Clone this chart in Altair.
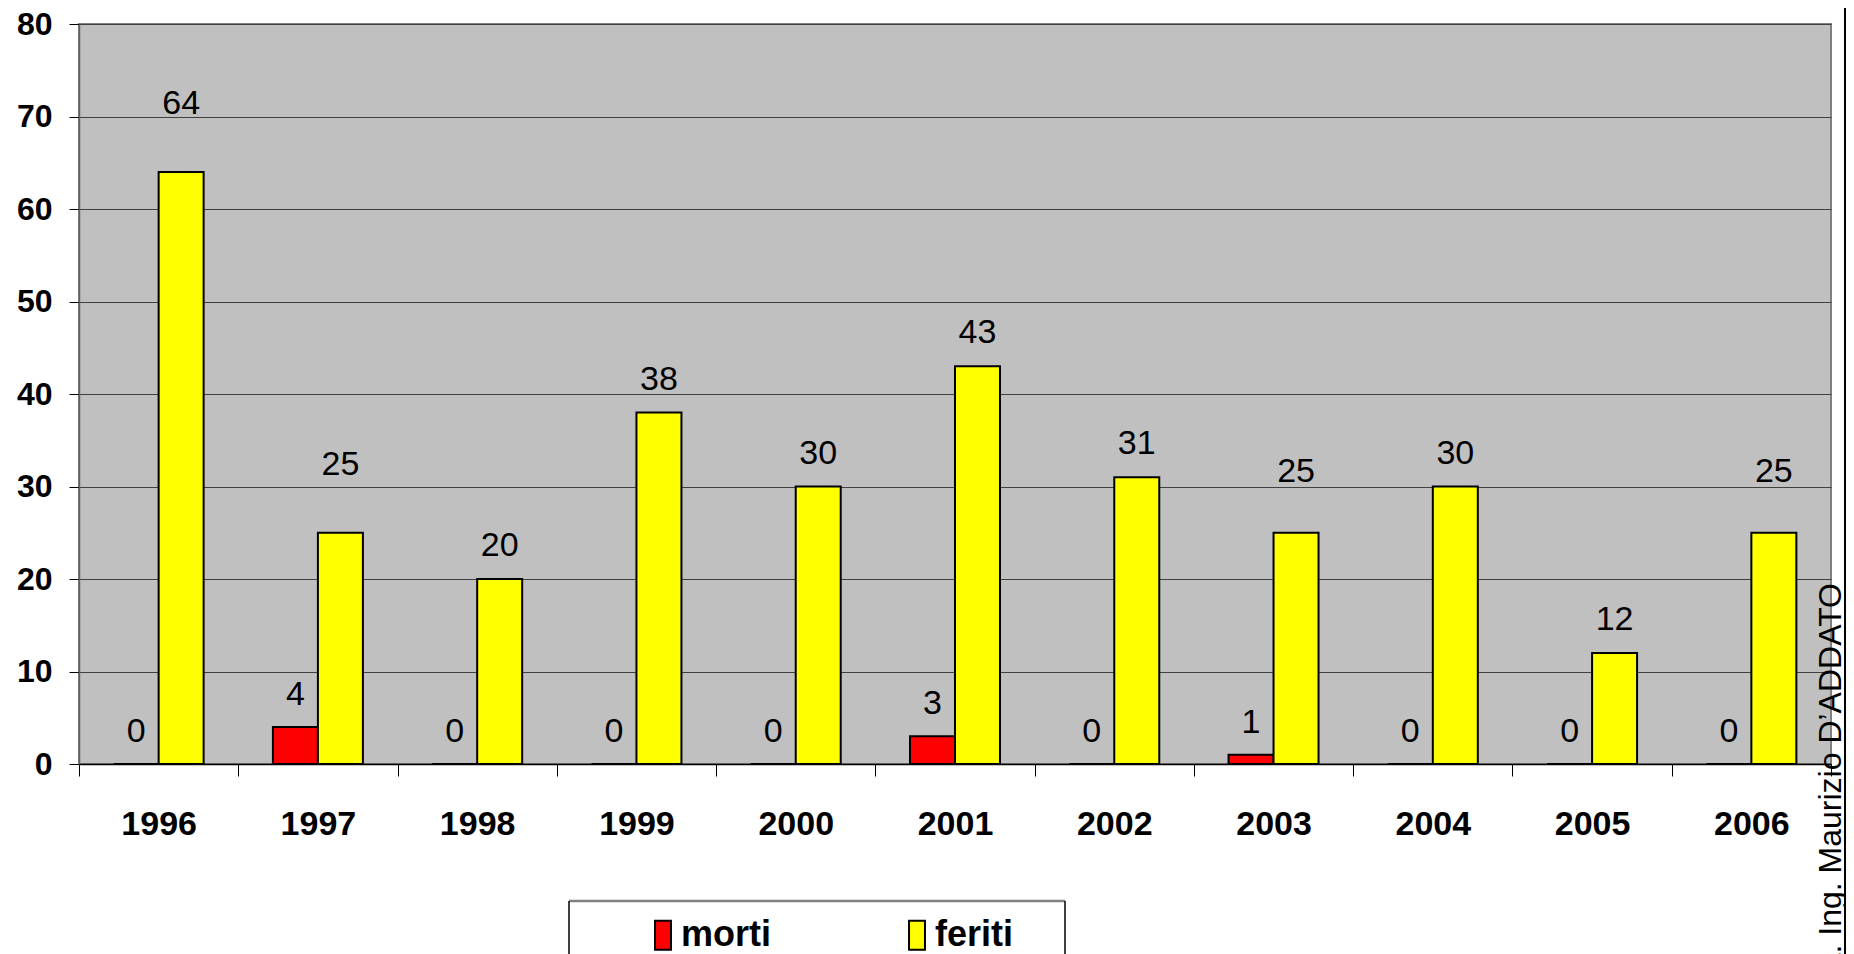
import altair as alt
import pandas as pd

years = ["1996", "1997", "1998", "1999", "2000", "2001", "2002", "2003", "2004", "2005", "2006"]
morti = [0, 4, 0, 0, 0, 3, 0, 1, 0, 0, 0]
feriti = [64, 25, 20, 38, 30, 43, 31, 25, 30, 12, 25]
series = ["morti", "feriti"]
colors = ["#FF0000", "#FFFF00"]
credit = "Dott. Ing. Maurizio D\u2019ADDATO"

rows = []
for i, y in enumerate(years):
    rows.append({"anno": y, "serie": "morti", "valore": morti[i]})
    rows.append({"anno": y, "serie": "feriti", "valore": feriti[i]})
df = pd.DataFrame(rows)

FONT = "Liberation Sans, Arial, sans-serif"

x_enc = alt.X("anno:N", sort=years,
              scale=alt.Scale(paddingInner=0, paddingOuter=0),
              axis=alt.Axis(title=None, labelAngle=0, tickBand="extent", tickSize=12,
                            tickColor="black", tickWidth=1, domainColor="black", domainWidth=1.5,
                            labelFont=FONT, labelFontSize=34, labelFontWeight="bold",
                            labelColor="black", labelPadding=31, grid=False))
xo_enc = alt.XOffset("serie:N", sort=series,
                     scale=alt.Scale(domain=series, paddingInner=0, paddingOuter=0.77))
y_enc = alt.Y("valore:Q", scale=alt.Scale(domain=[0, 80], nice=False),
              axis=alt.Axis(title=None, values=list(range(0, 81, 10)), grid=True,
                            gridColor="#404040", gridWidth=1, tickSize=10, tickColor="black",
                            domainColor="#606060", domainWidth=1.5,
                            labelFont=FONT, labelFontSize=32, labelFontWeight="bold",
                            labelColor="black", labelPadding=17))

bars = alt.Chart(df).mark_bar(stroke="black", strokeWidth=2).encode(
    x=x_enc, xOffset=xo_enc, y=y_enc,
    color=alt.Color("serie:N", sort=series,
                    scale=alt.Scale(domain=series, range=colors),
                    legend=alt.Legend(orient="none", legendX=566, legendY=893,
                                      direction="horizontal", columns=2, title=None,
                                      symbolType="M-0.55,-1H0.55V1H-0.55Z",
                                      symbolSize=841, symbolStrokeColor="black",
                                      symbolStrokeWidth=2, labelFont=FONT,
                                      labelFontSize=36, labelFontWeight="bold",
                                      labelColor="black", columnPadding=128,
                                      padding=0, labelOffset=0, labelLimit=0)),
)

def labels(expr, dy):
    return alt.Chart(df).transform_filter(expr).mark_text(
        font=FONT, fontSize=34, color="black",
        baseline="alphabetic", align="center", dy=dy,
    ).encode(x=alt.X("anno:N", sort=years), xOffset=alt.XOffset("serie:N", sort=series),
             y="valore:Q", text="valore:Q")

raised_hi = ["1996", "1997"]
raised_lo = ["2003", "2006"]
def in_list(lst):
    return "indexof([" + ",".join("'%s'" % v for v in lst) + "], datum.anno) >= 0"

lab_morti = labels("datum.serie == 'morti'", -22)
lab_fer = labels("datum.serie == 'feriti' && !(" + in_list(raised_hi + raised_lo) + ")", -23)
lab_hi = labels("datum.serie == 'feriti' && " + in_list(raised_hi), -58)
lab_lo = labels("datum.serie == 'feriti' && " + in_list(raised_lo), -51)

one = pd.DataFrame({"k": [0]})
BOX_TOP = 877
box_top = alt.Chart(one).mark_rule(color="#808080", strokeWidth=2.5).encode(
    x=alt.value(490), x2=alt.value(986), y=alt.value(BOX_TOP))
box_left = alt.Chart(one).mark_rule(color="black", strokeWidth=1.5).encode(
    x=alt.value(490), y=alt.value(BOX_TOP), y2=alt.value(990))
box_right = alt.Chart(one).mark_rule(color="black", strokeWidth=1.5).encode(
    x=alt.value(986), y=alt.value(BOX_TOP), y2=alt.value(990))
credit_text = alt.Chart(one).mark_text(
    text=credit, font="Liberation Sans", fontSize=32, angle=270, align="right",
    baseline="alphabetic", color="black").encode(x=alt.value(1762), y=alt.value(559))
edge = alt.Chart(one).mark_rule(color="black", strokeWidth=2).encode(
    x=alt.value(1766), y=alt.value(-20), y2=alt.value(990))

chart = alt.layer(box_top, box_left, box_right, bars, lab_morti, lab_fer, lab_hi, lab_lo,
                  credit_text, edge).properties(
    width=1752, height=740,
    autosize=alt.AutoSizeParams(type="none"),
    padding={"left": 71, "top": 16, "right": 15, "bottom": 190},
    background="white",
).configure_view(fill="#C0C0C0", stroke="#808080", strokeWidth=2)

chart.save("out.html", embed_options={"renderer": "svg", "actions": False})
